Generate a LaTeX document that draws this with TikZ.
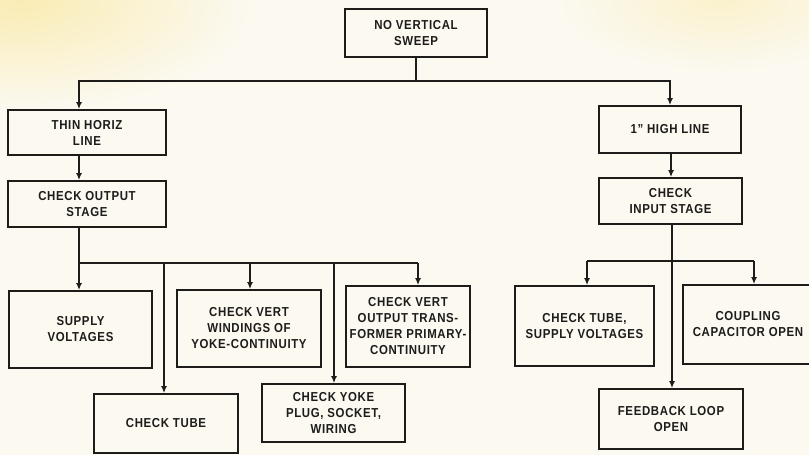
\documentclass[tikz,border=0pt]{standalone}
\usepackage{fontspec}
\setmainfont{Liberation Sans}[FakeStretch=0.88,LetterSpace=5]
\usetikzlibrary{arrows.meta}
\definecolor{paper}{RGB}{251,249,240}
\definecolor{tint}{RGB}{250,236,180}
\definecolor{ink}{RGB}{30,28,26}
\tikzset{
  box/.style={draw=ink, line width=1.8pt, fill=none, align=center, inner sep=0pt,
    font=\bfseries\fontsize{13}{16}\selectfont, text=ink},
  link/.style={draw=ink, line width=1.4pt},
  arr/.style={link, -{Latex[length=7pt,width=6pt]}},
}
\begin{document}
\begin{tikzpicture}[x=1pt,y=-1pt]
\useasboundingbox (0,0) rectangle (809,455);
\fill[paper] (0,0) rectangle (809,455);
\begin{scope}
\clip (0,0) rectangle (809,455);
\shade[inner color=tint, outer color=paper] (20,0) ellipse (230 and 110);
\shade[inner color=tint!60!paper, outer color=paper] (720,0) ellipse (160 and 70);
\end{scope}
\begin{scope}
\clip (0,0) rectangle (809,455);
\node[box, minimum width=142, minimum height=48] (top) at (416,33) {NO VERTICAL\\SWEEP};
\node[box, minimum width=158, minimum height=45] (thin) at (87,132.5) {THIN HORIZ\\LINE};
\node[box, minimum width=158, minimum height=46] (out) at (87,204) {CHECK OUTPUT\\STAGE};
\node[box, minimum width=143, minimum height=77] (supply) at (80.5,329.5) {SUPPLY\\VOLTAGES};
\node[box, minimum width=144, minimum height=59] (tube) at (166,423.5) {CHECK TUBE};
\node[box, minimum width=144, minimum height=77] (wind) at (249,328.5) {CHECK VERT\\WINDINGS OF\\YOKE-CONTINUITY};
\node[box, minimum width=143, minimum height=58] (yoke) at (333.5,413) {CHECK YOKE\\PLUG, SOCKET,\\WIRING};
\node[box, minimum width=124, minimum height=81] (xfmr) at (408,326.5) {CHECK VERT\\OUTPUT TRANS-\\FORMER PRIMARY-\\CONTINUITY};
\node[box, minimum width=142, minimum height=47] (high) at (670,129.5) {1'' HIGH LINE};
\node[box, minimum width=143, minimum height=46] (input) at (670.5,201) {CHECK\\INPUT STAGE};
\node[box, minimum width=139, minimum height=80] (tubesv) at (584.5,326) {CHECK TUBE,\\SUPPLY VOLTAGES};
\node[box, minimum width=130, minimum height=79] (coup) at (748,324.5) {COUPLING\\CAPACITOR OPEN};
\node[box, minimum width=144, minimum height=60] (feed) at (671,419) {FEEDBACK LOOP\\OPEN};
\end{scope}
% top split
\coordinate (tl) at (79,81);
\coordinate (tr) at (670,81);
\draw[arr] (top.south) |- (tl) -- (tl |- thin.north);
\draw[arr] (top.south) |- (tr) -- (tr |- high.north);
% left column
\coordinate (lx) at (79,263);
\draw[arr] (lx |- thin.south) -- (lx |- out.north);
\draw[link] (lx |- out.south) -- (lx);
\coordinate (l1) at (164,263);
\coordinate (l2) at (250,263);
\coordinate (l3) at (334,263);
\coordinate (l4) at (418,263);
\draw[link] (lx) -- (l4);
\draw[arr] (lx) -- (lx |- supply.north);
\draw[arr] (l1) -- (l1 |- tube.north);
\draw[arr] (l2) -- (l2 |- wind.north);
\draw[arr] (l3) -- (l3 |- yoke.north);
\draw[arr] (l4) -- (l4 |- xfmr.north);
% right column
\coordinate (rx) at (671,0);
\draw[arr] (rx |- high.south) -- (rx |- input.north);
\coordinate (rm) at (672,261);
\coordinate (r1) at (587,261);
\coordinate (r2) at (754,261);
\draw[arr] (rm |- input.south) -- (rm |- feed.north);
\draw[link] (r1) -- (r2);
\draw[arr] (r1) -- (r1 |- tubesv.north);
\draw[arr] (r2) -- (r2 |- coup.north);
\end{tikzpicture}
\end{document}
